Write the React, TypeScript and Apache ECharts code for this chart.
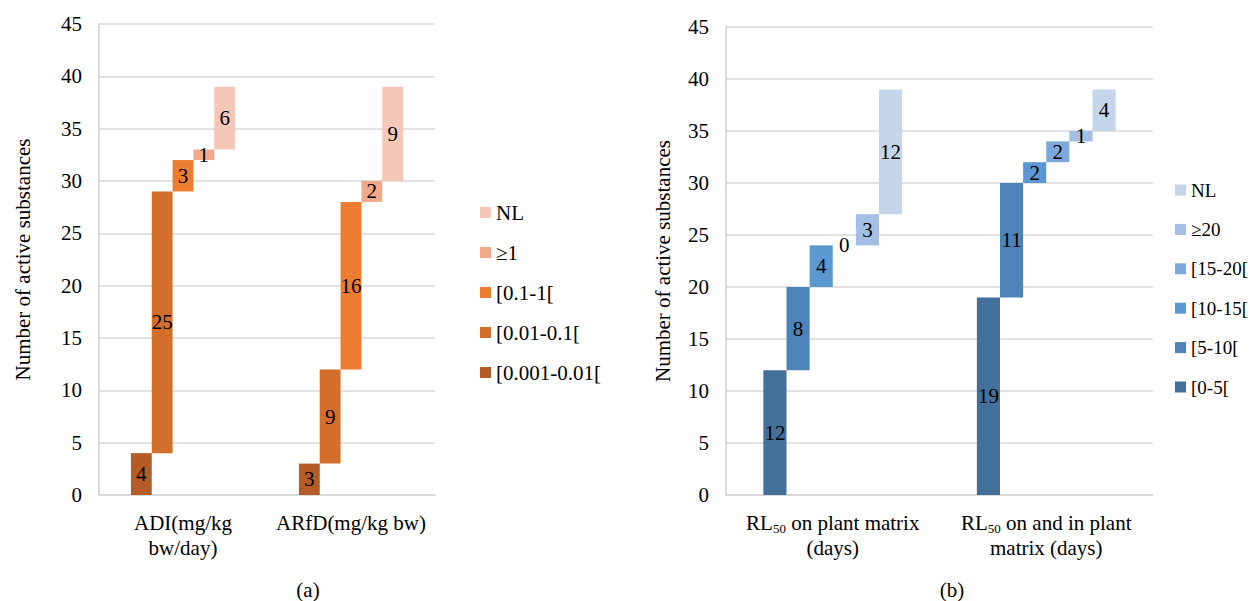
import React, { useEffect, useRef } from "react";
import * as echarts from "echarts";

const FONT = "Liberation Serif";
const FS = 21;

// ---- Panel (a) ----
const leftCategories = ["ADI(mg/kg\nbw/day)", "ARfD(mg/kg bw)"];
const leftClasses = ["[0.001-0.01[", "[0.01-0.1[", "[0.1-1[", "≥1", "NL"];
const leftValues = [
  [4, 3],
  [25, 9],
  [3, 16],
  [1, 2],
  [6, 9],
];
const leftColors = ["#B45B26", "#D36F2A", "#ED7D31", "#F1A98A", "#F5C7B7"];

// ---- Panel (b) ----
const rightCategories = ["RL50 on plant matrix\n(days)", "RL50 on and in plant\nmatrix (days)"];
const rightClasses = ["[0-5[", "[5-10[", "[10-15[", "[15-20[", "≥20", "NL"];
const rightValues = [
  [12, 19],
  [8, 11],
  [4, 2],
  [0, 2],
  [3, 1],
  [12, 4],
];
const rightColors = ["#43709B", "#4D83B6", "#5B97D0", "#7FA8DA", "#A4BFE3", "#C5D5EA"];

const yTicks = { min: 0, max: 45, interval: 5 };

function buildSeries(classes: string[], values: number[][], colors: string[], gap: string) {
  const series: any[] = [];
  classes.forEach((cls, i) => {
    const base = values[0].map((_, c) => {
      let s = 0;
      for (let k = 0; k < i; k++) s += values[k][c];
      return s;
    });
    series.push({
      name: "__base" + i,
      type: "bar",
      stack: "s" + i,
      data: base,
      silent: true,
      itemStyle: { color: "transparent" },
      label: { show: false },
      barGap: "0%",
      barCategoryGap: gap,
      emphasis: { disabled: true },
    });
    series.push({
      name: cls,
      type: "bar",
      stack: "s" + i,
      data: values[i],
      itemStyle: { color: colors[i] },
      barGap: "0%",
      barCategoryGap: gap,
      label: {
        show: true,
        position: "inside",
        fontSize: FS,
        fontFamily: FONT,
        color: "#000",
      },
    });
  });
  return series;
}

function buildOption(cfg: {
  categories: string[];
  classes: string[];
  values: number[][];
  colors: string[];
  gap: string;
  grid: any;
  legendLeft: number;
  legendTop: number;
  legendGap: number;
  legendFs: number;
  nameGap: number;
  sub: string;
  subX: number;
  rich?: boolean;
}) {
  return {
    animation: false,
    textStyle: { fontFamily: FONT },
    grid: cfg.grid,
    legend: {
      orient: "vertical",
      left: cfg.legendLeft,
      top: cfg.legendTop,
      itemWidth: 11,
      itemHeight: 11,
      itemGap: cfg.legendGap,
      icon: "rect",
      data: cfg.classes.slice().reverse(),
      textStyle: { fontSize: cfg.legendFs, fontFamily: FONT, color: "#000", lineHeight: 20 },
      selectedMode: false,
    },
    xAxis: {
      type: "category",
      data: cfg.categories,
      axisLine: { show: true, lineStyle: { color: "#D9D9D9", width: 1.5 } },
      axisTick: { show: false },
      axisLabel: {
        interval: 0,
        fontSize: FS,
        fontFamily: FONT,
        color: "#000",
        lineHeight: 25,
        margin: 15,
        formatter: cfg.rich
          ? (v: string) => v.replace("RL50", "RL{s|50}")
          : undefined,
        rich: cfg.rich
          ? {
              s: { fontSize: 13, fontFamily: FONT, color: "#000", verticalAlign: "bottom", lineHeight: 23 },
            }
          : undefined,
      },
    },
    yAxis: {
      type: "value",
      min: yTicks.min,
      max: yTicks.max,
      interval: yTicks.interval,
      name: "Number of active substances",
      nameLocation: "middle",
      nameRotate: 90,
      nameGap: cfg.nameGap,
      nameTextStyle: { fontSize: FS, fontFamily: FONT, color: "#000" },
      axisLine: { show: true, lineStyle: { color: "#D0D0D0", width: 1.5 } },
      axisTick: { show: false },
      axisLabel: { fontSize: FS, fontFamily: FONT, color: "#000", margin: 17 },
      splitLine: { show: true, lineStyle: { color: "#D9D9D9", width: 1.5 } },
    },
    graphic: [
      {
        type: "text",
        x: cfg.subX,
        y: 590,
        style: {
          text: cfg.sub,
          fontSize: FS,
          fontFamily: FONT,
          fill: "#000",
          textAlign: "center",
          textVerticalAlign: "middle",
        },
      },
    ],
    series: buildSeries(cfg.classes, cfg.values, cfg.colors, cfg.gap),
  };
}

function Panel({ left, option }: { left: number; option: any }) {
  const ref = useRef<HTMLDivElement>(null);
  useEffect(() => {
    if (!ref.current) return;
    const chart = echarts.init(ref.current, undefined, { renderer: "svg" });
    chart.setOption(option);
    return () => chart.dispose();
  }, [option]);
  return (
    <div
      ref={ref}
      style={{ position: "absolute", left, top: 0, width: 625, height: 601 }}
    />
  );
}

const leftOption = buildOption({
  categories: leftCategories,
  classes: leftClasses,
  values: leftValues,
  colors: leftColors,
  gap: "38%",
  grid: { left: 99, right: 190, top: 24, bottom: 106 },
  legendLeft: 475,
  legendTop: 197,
  legendGap: 19,
  legendFs: 21,
  nameGap: 66,
  sub: "(a)",
  subX: 308,
});

const rightOption = buildOption({
  categories: rightCategories,
  classes: rightClasses,
  values: rightValues,
  colors: rightColors,
  gap: "35%",
  grid: { left: 101, right: 97, top: 27, bottom: 106 },
  legendLeft: 545,
  legendTop: 175,
  legendGap: 19.4,
  legendFs: 19,
  nameGap: 53,
  sub: "(b)",
  subX: 327,
  rich: true,
});

export default function App() {
  return (
    <div style={{ position: "absolute", left: 0, top: 0, width: 1250, height: 601, background: "#fff" }}>
      <Panel left={0} option={leftOption} />
      <Panel left={625} option={rightOption} />
    </div>
  );
}
